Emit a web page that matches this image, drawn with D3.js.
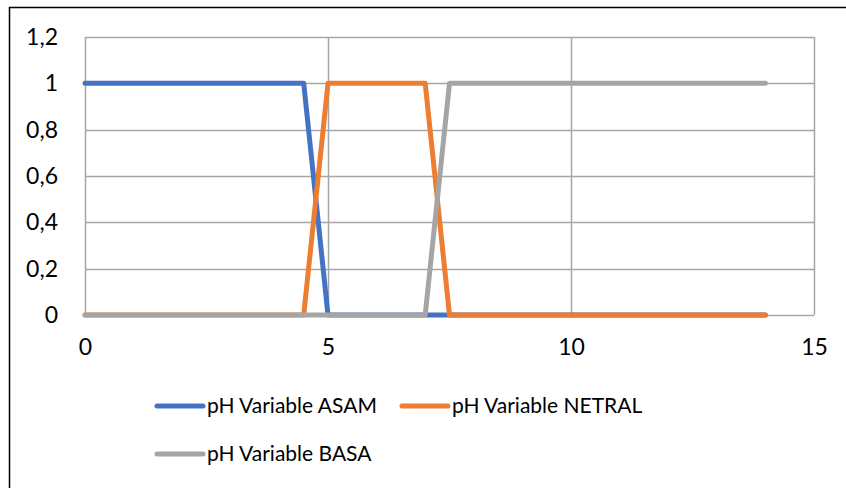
<!DOCTYPE html>
<html>
    <head>
        <script src="https://d3js.org/d3.v7.min.js"></script>
        <style>
            body { margin: 0; background: #fff; overflow: hidden; }
            svg { display: block; font-family: Lato, 'Open Sans', sans-serif; }
        </style>
    </head>
    <body>
        <script>
            const xTicks = [0, 5, 10, 15]
            const yTicks = [0, 0.2, 0.4, 0.6, 0.8, 1, 1.2]

            const seriesNames = ['pH Variable ASAM', 'pH Variable NETRAL', 'pH Variable BASA']
            const seriesColors = ['#4472C4', '#ED7D31', '#A5A5A5']

            const asamX = [0, 4.5, 5, 7, 7.5, 14]
            const asamY = [1, 1, 0, 0, 0, 0]
            const netralX = [0, 4.5, 5, 7, 7.5, 14]
            const netralY = [0, 0, 1, 1, 0, 0]
            const basaX = [0, 4.5, 5, 7, 7.5, 14]
            const basaY = [0, 0, 0, 0, 1, 1]

            const seriesData = [
                asamX.map((x, i) => ({ x, y: asamY[i] })),
                netralX.map((x, i) => ({ x, y: netralY[i] })),
                basaX.map((x, i) => ({ x, y: basaY[i] }))
            ]

            const W = 846
            const H = 488
            const plot = { left: 85, right: 814, top: 37, bottom: 315 }

            const svg = d3.select('body').append('svg')
                .attr('width', W)
                .attr('height', H)

            // outer chart border, only its top and left edges are in frame
            svg.append('path')
                .attr('d', `M9.5,${H} V7.5 H${W}`)
                .attr('fill', 'none')
                .attr('stroke', '#000')
                .attr('stroke-width', 1.5)

            const x = d3.scaleLinear().domain([0, 15]).range([plot.left, plot.right])
            const y = d3.scaleLinear().domain([0, 1.2]).range([plot.bottom, plot.top])

            const fmt = d => String(+d.toFixed(1)).replace('.', ',')

            // gridlines
            svg.append('g')
                .selectAll('line')
                .data(yTicks).enter()
                .append('line')
                    .attr('x1', plot.left).attr('x2', plot.right)
                    .attr('y1', d => Math.round(y(d)) + 0.5)
                    .attr('y2', d => Math.round(y(d)) + 0.5)
                    .attr('stroke', '#A6A6A6')
                    .attr('stroke-width', 1.5)

            svg.append('g')
                .selectAll('line')
                .data(xTicks).enter()
                .append('line')
                    .attr('x1', d => Math.round(x(d)) + 0.5)
                    .attr('x2', d => Math.round(x(d)) + 0.5)
                    .attr('y1', plot.top).attr('y2', plot.bottom)
                    .attr('stroke', '#A6A6A6')
                    .attr('stroke-width', 1.5)

            // axis labels
            const yAxis = d3.axisLeft(y).tickValues(yTicks).tickFormat(fmt).tickSize(0).tickPadding(27)
            const yg = svg.append('g').attr('transform', `translate(${plot.left},0)`).call(yAxis)
            yg.select('.domain').remove()
            yg.selectAll('text').attr('font-size', 23).attr('fill', '#000').attr('font-family', 'Lato, sans-serif')

            const xAxis = d3.axisBottom(x).tickValues(xTicks).tickFormat(d => d).tickSize(0).tickPadding(24)
            const xg = svg.append('g').attr('transform', `translate(0,${plot.bottom})`).call(xAxis)
            xg.select('.domain').remove()
            xg.selectAll('text').attr('font-size', 23).attr('fill', '#000').attr('font-family', 'Lato, sans-serif')

            // series lines
            const line = d3.line().x(d => x(d.x)).y(d => y(d.y))
            svg.append('g')
                .selectAll('path')
                .data(seriesData).enter()
                .append('path')
                    .attr('d', line)
                    .attr('fill', 'none')
                    .attr('stroke', (d, i) => seriesColors[i])
                    .attr('stroke-width', 5)
                    .attr('stroke-linejoin', 'round')
                    .attr('stroke-linecap', 'round')

            // legend
            const legendPos = [
                { x: 157, y: 406 },
                { x: 402, y: 406 },
                { x: 157, y: 454 }
            ]
            const legend = svg.append('g')
                .selectAll('g')
                .data(seriesNames).enter()
                .append('g')
                    .attr('transform', (d, i) => `translate(${legendPos[i].x},${legendPos[i].y})`)
            legend.append('line')
                .attr('x1', 0).attr('x2', 46)
                .attr('stroke', (d, i) => seriesColors[i])
                .attr('stroke-width', 5)
                .attr('stroke-linecap', 'round')
            legend.append('text')
                .attr('x', 50)
                .attr('dy', '0.35em')
                .attr('font-size', 21)
                .text(d => d)
        </script>
    </body>
</html>
